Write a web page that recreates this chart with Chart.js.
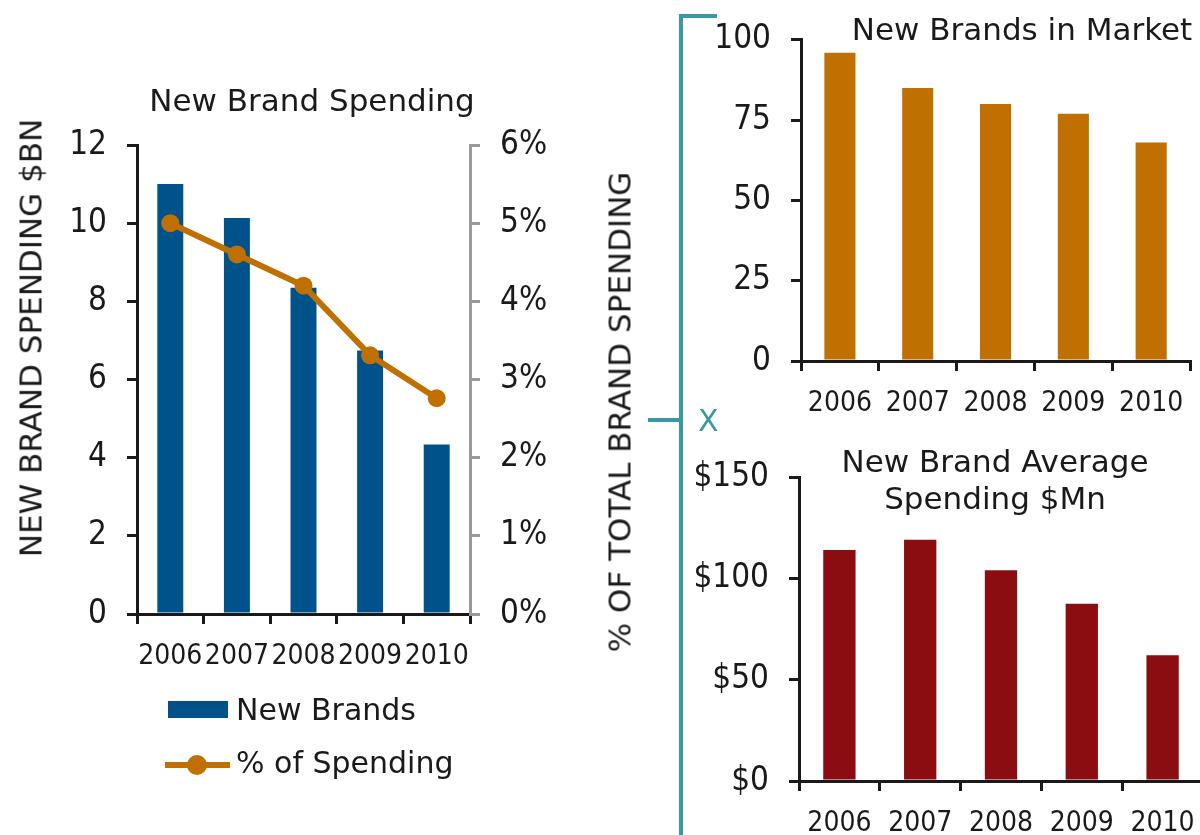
<!DOCTYPE html>
<html>
<head>
<meta charset="utf-8">
<title>New Brand Spending</title>
<script src="https://cdn.jsdelivr.net/npm/chart.js@4.4.1/dist/chart.umd.min.js"></script>
<style>
  html, body { margin: 0; padding: 0; background: #fff; }
  body { position: relative; width: 1200px; height: 835px; overflow: hidden;
         font-family: 'DejaVu Sans', Verdana, sans-serif; color: #1a1a1a; }
  canvas { position: absolute; }
  .txt { position: absolute; white-space: nowrap; line-height: 1; font-size: 31px; }
  .mid { transform: translateX(-50%); }
  .rot { transform: translate(-50%, -50%) rotate(-90deg); }
  .teal { position: absolute; background: #3a97a7; }
  .key { position: absolute; }
</style>
</head>
<body>
<canvas id="spendChart" width="600" height="700" style="left:0;top:0"></canvas>
<canvas id="countChart" width="580" height="430" style="left:620px;top:0"></canvas>
<canvas id="avgChart" width="600" height="405" style="left:620px;top:430px"></canvas>

<div class="txt mid" style="left:312px;top:85px">New Brand Spending</div>
<div class="txt mid" style="left:1022px;top:14px">New Brands in Market</div>
<div class="txt mid" style="left:995px;top:443px;line-height:37px;text-align:center">New Brand Average<br>Spending $Mn</div>
<div class="txt rot" style="left:31px;top:338px">NEW BRAND SPENDING $BN</div>
<div class="txt rot" style="left:620px;top:412px">% OF TOTAL BRAND SPENDING</div>

<!-- legend for the left chart -->
<div class="key" style="left:168px;top:701px;width:60px;height:17px;background:#00538a"></div>
<div class="txt" style="left:236px;top:695px;font-size:30px">New Brands</div>
<div class="key" style="left:165px;top:762px;width:65px;height:6px;background:#c07000"></div>
<div class="key" style="left:187px;top:755px;width:20px;height:20px;border-radius:50%;background:#c07000"></div>
<div class="txt" style="left:236px;top:748px;font-size:30px">% of Spending</div>

<!-- bracket joining the two small charts -->
<div class="teal" style="left:679px;top:14px;width:4px;height:821px"></div>
<div class="teal" style="left:679px;top:14px;width:38px;height:4px"></div>
<div class="teal" style="left:648px;top:418px;width:33px;height:4px"></div>
<div class="txt" style="left:698px;top:406px;font-size:30px;color:#3a97a7">X</div>

<script>
const years = ['2006', '2007', '2008', '2009', '2010'];
const newBrandSpend = [11.0, 10.13, 8.35, 6.74, 4.34];   // $BN
const spendShare = [5.0, 4.6, 4.2, 3.31, 2.76];          // % of total brand spending
const newBrandCount = [96, 85, 80, 77, 68];
const avgSpend = [114, 119, 104, 87.5, 62];              // $Mn

const spendTicks = [0, 2, 4, 6, 8, 10, 12];
const shareTicks = [0, 1, 2, 3, 4, 5, 6];
const countTicks = [0, 25, 50, 75, 100];
const avgTicks = [0, 50, 100, 150];

const ink = '#1a1a1a';
const blue = '#00538a';
const orange = '#c07000';
const darkRed = '#8b0d12';
const tickFamily = "'DejaVu Sans Condensed', 'Liberation Sans', sans-serif";

function xAxis(height) {
    return {
        grid: { offset: true, drawOnChartArea: false, tickLength: 10, lineWidth: 3, color: ink },
        border: { color: ink, width: 3 },
        ticks: { color: ink, font: { family: tickFamily, size: 28 }, padding: 16, maxRotation: 0, autoSkip: false },
        afterFit: s => { s.height = height; }
    };
}

function yAxis(width, tickList, fmt, color, position) {
    return {
        position: position || 'left',
        min: tickList[0],
        max: tickList[tickList.length - 1],
        grid: { drawOnChartArea: false, tickLength: 10, lineWidth: 3, color: color },
        border: { color: color, width: 3 },
        ticks: { color: ink, font: { family: tickFamily, size: 33 }, padding: 20, callback: fmt },
        afterBuildTicks: s => { s.ticks = tickList.map(v => ({ value: v })); },
        afterFit: s => { s.width = width; }
    };
}

const base = {
    responsive: false,
    animation: false,
    events: [],
    plugins: { legend: { display: false }, tooltip: { enabled: false } }
};

new Chart(document.getElementById('spendChart'), {
    type: 'bar',
    data: {
        labels: years,
        datasets: [{
            type: 'line',
            label: '% of Spending',
            data: spendShare,
            yAxisID: 'y1',
            borderColor: orange,
            backgroundColor: orange,
            borderWidth: 6,
            pointRadius: 9,
            pointBorderWidth: 0,
            tension: 0,
            order: 0
        }, {
            label: 'New Brands',
            data: newBrandSpend,
            yAxisID: 'y',
            backgroundColor: blue,
            barPercentage: 0.39,
            categoryPercentage: 1,
            order: 1
        }]
    },
    options: {
        ...base,
        layout: { padding: { top: 145, left: 0, right: 0, bottom: 0 } },
        scales: {
            x: xAxis(86),
            y: yAxis(137, spendTicks, v => v, ink),
            y1: yAxis(130, shareTicks, v => v + '%', '#999999', 'right')
        }
    }
});

new Chart(document.getElementById('countChart'), {
    type: 'bar',
    data: {
        labels: years,
        datasets: [{
            label: 'New Brands in Market',
            data: newBrandCount,
            backgroundColor: orange,
            barPercentage: 0.4,
            categoryPercentage: 1
        }]
    },
    options: {
        ...base,
        layout: { padding: { top: 39, left: 0, right: 8, bottom: 0 } },
        scales: {
            x: xAxis(69),
            y: yAxis(181, countTicks, v => v, ink)
        }
    }
});

new Chart(document.getElementById('avgChart'), {
    type: 'bar',
    data: {
        labels: years,
        datasets: [{
            label: 'New Brand Average Spending $Mn',
            data: avgSpend,
            backgroundColor: darkRed,
            barPercentage: 0.4,
            categoryPercentage: 1
        }]
    },
    options: {
        ...base,
        layout: { padding: { top: 47, left: 0, right: 17, bottom: 0 } },
        scales: {
            x: xAxis(54),
            y: yAxis(179, avgTicks, v => '$' + v, ink)
        }
    }
});
</script>
</body>
</html>
